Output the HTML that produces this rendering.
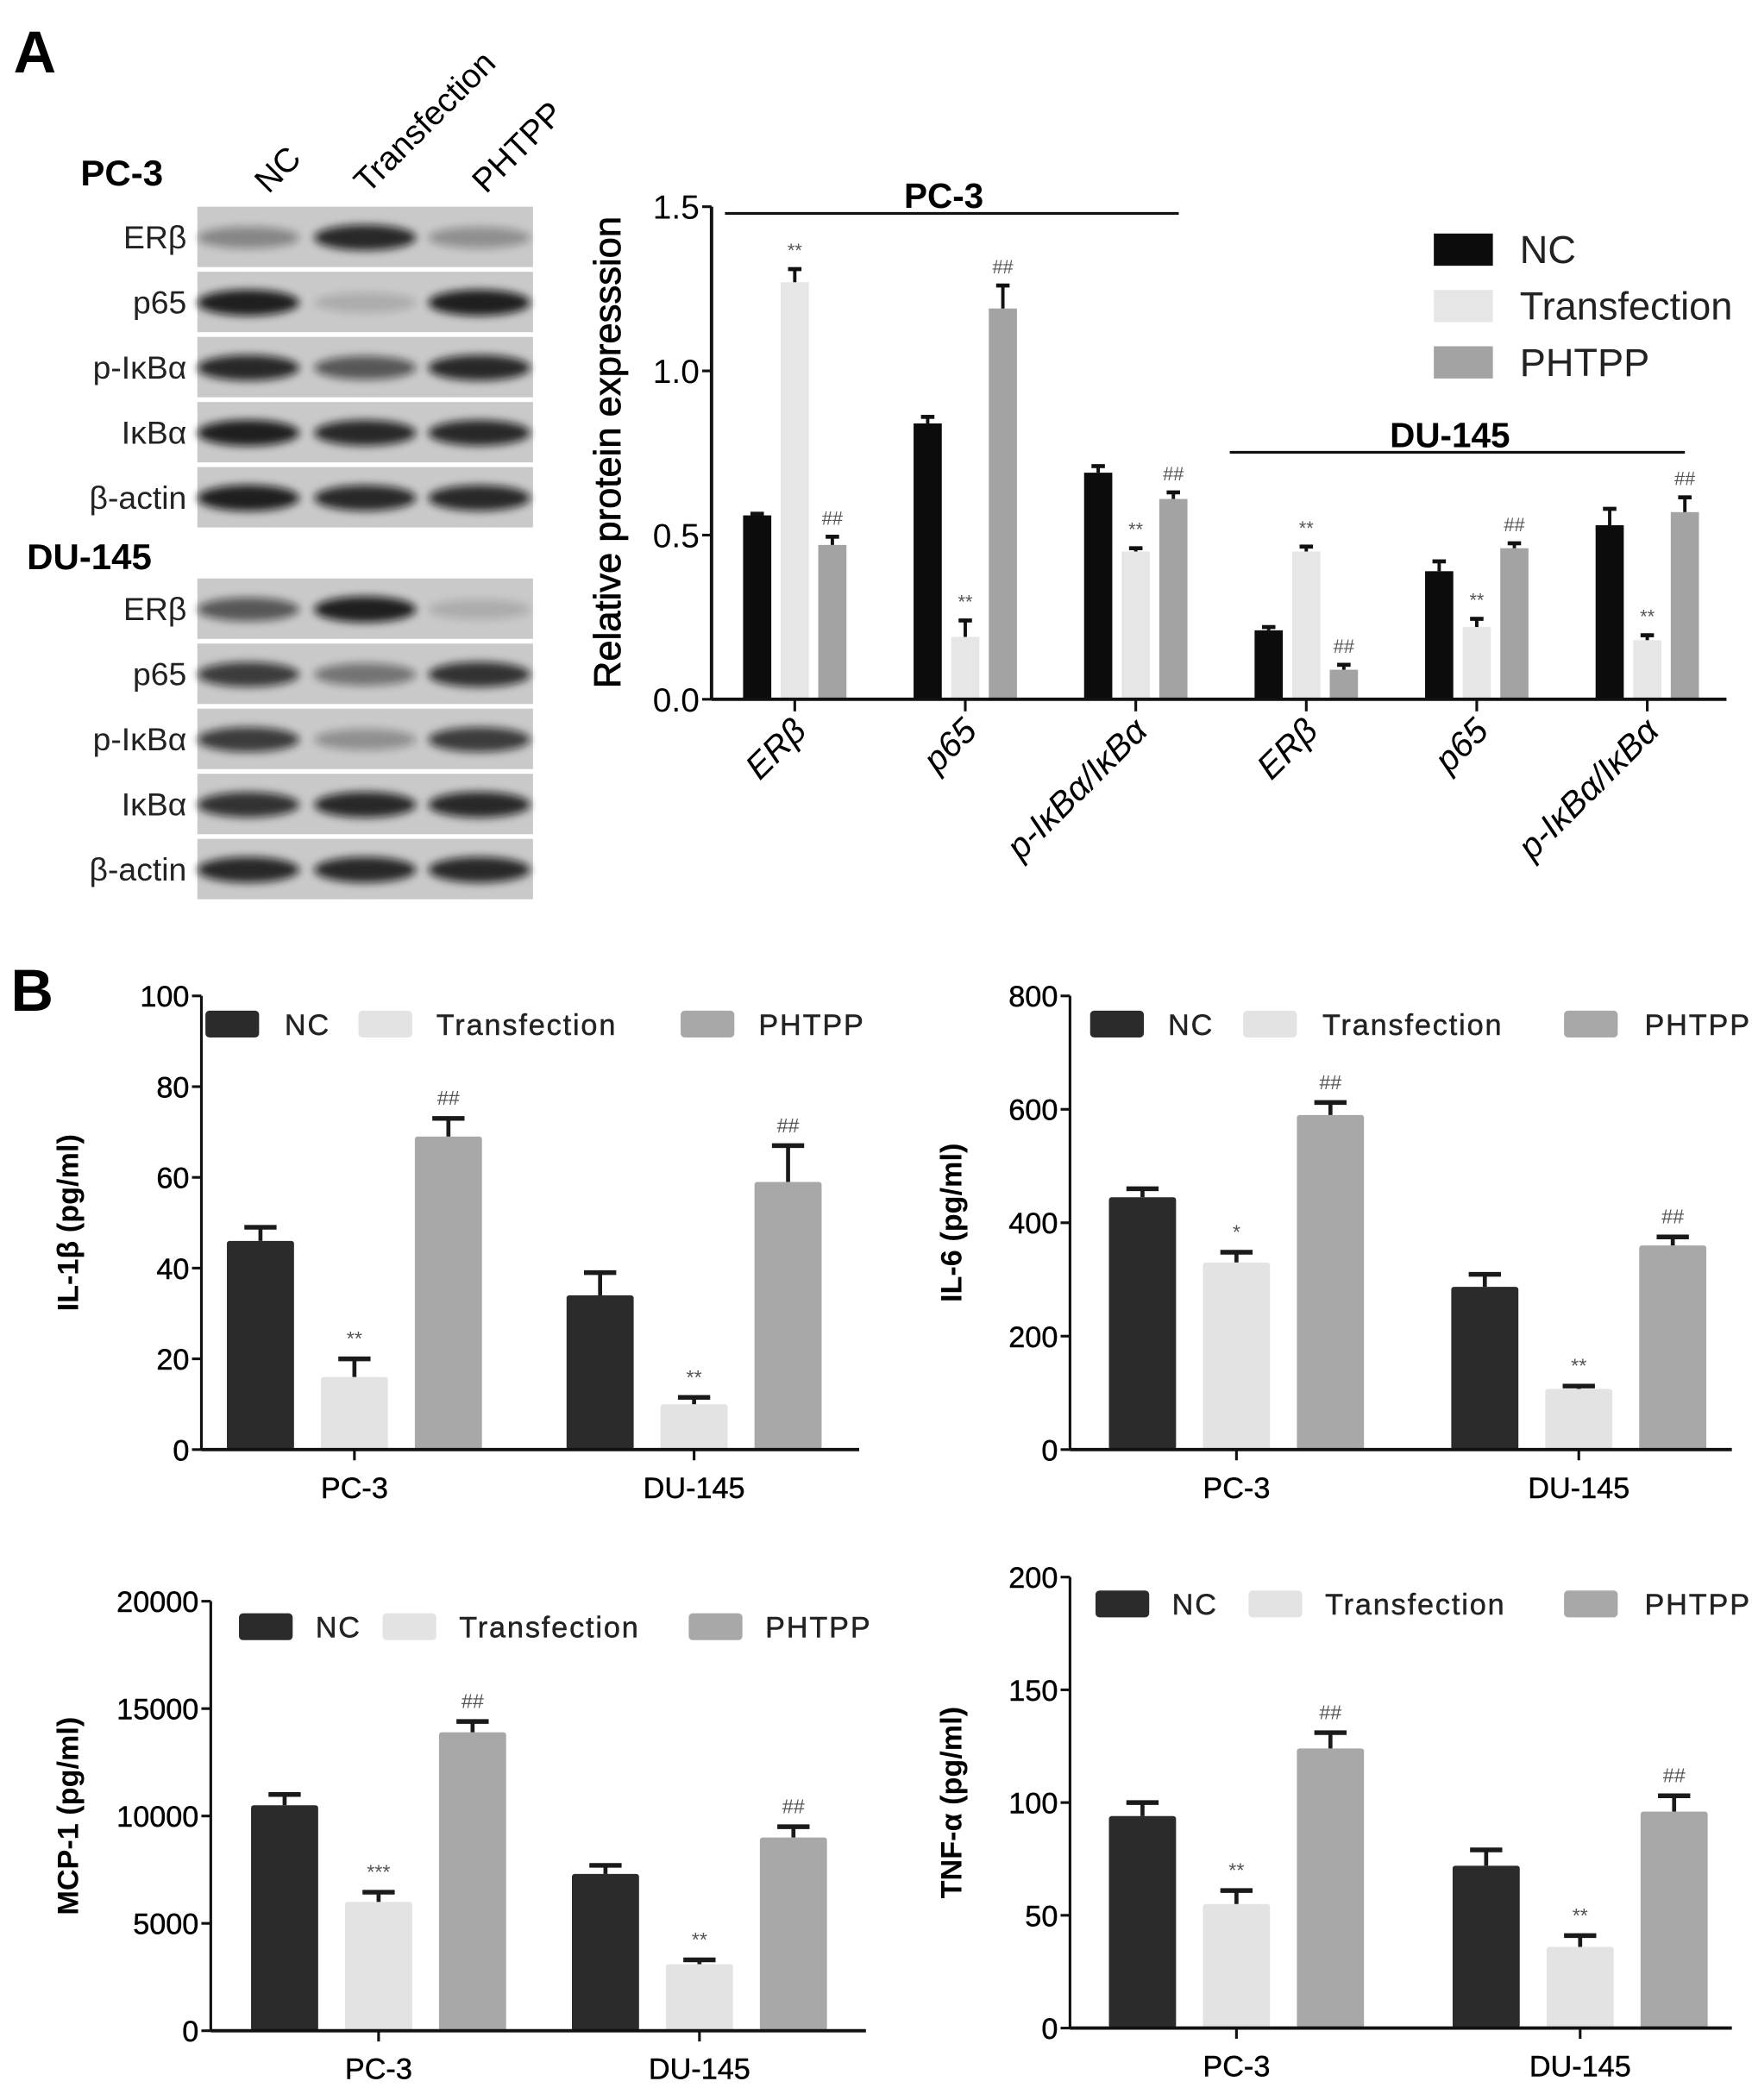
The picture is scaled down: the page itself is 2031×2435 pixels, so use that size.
<!DOCTYPE html>
<html><head><meta charset="utf-8"><style>
html,body{margin:0;padding:0;background:#fff}
svg{display:block}
text{font-family:"Liberation Sans",sans-serif}
</style></head><body>
<svg id="fig" width="2031" height="2435" viewBox="0 0 1305 1564.6" xmlns="http://www.w3.org/2000/svg">
<defs><filter id="blur" x="-20%" y="-50%" width="140%" height="200%"><feGaussianBlur stdDeviation="3"/></filter></defs>
<text x="10" y="54" font-size="44" font-weight="bold">A</text>
<text x="8" y="753" font-size="44" font-weight="bold">B</text>
<g id="blots"></g>
<g id="chartA"></g>
<g id="chartB"></g>
</svg>
<script>
const NS='http://www.w3.org/2000/svg';
function mk(parent,tag,attrs,txt){const e=document.createElementNS(NS,tag);for(const k in attrs)e.setAttribute(k,attrs[k]);if(txt!==undefined)e.textContent=txt;parent.appendChild(e);return e;}

// ---------- Blots ----------
const blotRows=['ERβ','p65','p-IκBα','IκBα','β-actin'];
const pcBandIntensity=[[0.35,0.85,0.3],[0.9,0.15,0.9],[0.85,0.6,0.85],[0.9,0.85,0.85],[0.9,0.85,0.85]];
const duBandIntensity=[[0.6,0.9,0.15],[0.75,0.45,0.8],[0.75,0.3,0.75],[0.8,0.85,0.85],[0.85,0.85,0.85]];
const laneNames=['NC','Transfection','PHTPP'];
const bl=document.getElementById('blots');
const laneX=[185,272,357];
[[154,pcBandIntensity,'pc3'],[431,duBandIntensity,'du145']].forEach(([top,ints,cell])=>{
  blotRows.forEach((r,i)=>{
    const y=top+i*48.5;
    const box=mk(bl,'rect',{x:147,y:y,width:250,height:45,fill:'#c9c9c9'});
    
    
    ints[i].forEach((v,j)=>{
      const b=mk(bl,'ellipse',{cx:laneX[j],cy:y+23,rx:38,ry:7+v*3,fill:'#111',opacity:v,filter:'url(#blur)'});
      
      
    });
    const t=mk(bl,'text',{x:139,y:y+31,'font-size':24,'text-anchor':'end',fill:'#222'},r);
    
    
  });
});
mk(bl,'text',{x:60,y:138,'font-size':27,'font-weight':'bold',},'PC-3');
mk(bl,'text',{x:20,y:424,'font-size':27,'font-weight':'bold',},'DU-145');
[[200,145],[274,145],[362,145]].forEach(([x,y],j)=>{
  const t=mk(bl,'text',{x:x,y:y,'font-size':25,transform:`rotate(-45 ${x} ${y})`},laneNames[j]);
  
  
});

// ---------- Chart A ----------
const aCats=['ERβ','p65','p-IκBα/IκBα','ERβ','p65','p-IκBα/IκBα'];
const aNC=[0.56,0.84,0.69,0.21,0.39,0.53];
const aNCerr=[0.005,0.02,0.02,0.01,0.03,0.05];
const aTr=[1.27,0.19,0.45,0.45,0.22,0.18];
const aTrErr=[0.04,0.05,0.01,0.015,0.025,0.015];
const aPH=[0.47,1.19,0.61,0.09,0.46,0.57];
const aPHerr=[0.025,0.07,0.02,0.015,0.015,0.045];
const aTrMark=['**','**','**','**','**','**'];
const aPHMark=['##','##','##','##','##','##'];
const aTicks=[0,0.5,1.0,1.5];
(function(){
  const g=document.getElementById('chartA');
  const X0=530,Y0=521,YT=154,max=1.5,c0=592,step=127;
  const y=v=>Y0-(v/max)*(Y0-YT);
  const cx=i=>c0+i*step;
  const cols=['#0c0c0c','#e6e6e6','#a3a3a3'];
  const series=[[aNC,aNCerr,null],[aTr,aTrErr,aTrMark],[aPH,aPHerr,aPHMark]];
  aCats.forEach((c,i)=>{
    series.forEach(([vals,errs,marks],s)=>{
      const x=cx(i)+(s-1)*28, w=21;
      const r=mk(g,'rect',{x:x-w/2,y:y(vals[i]),width:w,height:Y0-y(vals[i]),fill:cols[s]});
      
      
      const ye=y(vals[i]+errs[i]);
      mk(g,'line',{x1:x,x2:x,y1:y(vals[i]),y2:ye,stroke:'#111','stroke-width':2.5});
      mk(g,'line',{x1:x-5,x2:x+5,y1:ye,y2:ye,stroke:'#111','stroke-width':3});
      if(marks){const m=mk(g,'text',{x:x,y:ye-9,'font-size':14,'text-anchor':'middle',fill:'#555'},marks[i]);
        
        }
    });
    mk(g,'line',{x1:cx(i),x2:cx(i),y1:Y0,y2:Y0+9,stroke:'#111','stroke-width':2});
    const tx=cx(i)+10,ty=546;
    const t=mk(g,'text',{x:tx,y:ty,'font-size':26,'font-style':'italic','text-anchor':'end',transform:`rotate(-45 ${tx} ${ty})`},c);
    
    
  });
  mk(g,'line',{x1:X0,x2:X0,y1:YT,y2:Y0,stroke:'#111','stroke-width':2.5});
  mk(g,'line',{x1:X0,x2:1286,y1:Y0,y2:Y0,stroke:'#111','stroke-width':2.5});
  aTicks.forEach(v=>{
    mk(g,'line',{x1:X0-7,x2:X0,y1:y(v),y2:y(v),stroke:'#111','stroke-width':2});
    const t=mk(g,'text',{x:X0-9,y:y(v)+9,'font-size':25,'text-anchor':'end'},v.toFixed(1));
    
    
  });
  mk(g,'text',{x:462,y:337,'font-size':28,'text-anchor':'middle',stroke:'#000','stroke-width':0.5,transform:'rotate(-90 462 337)',},'Relative protein expresssion');
  mk(g,'line',{x1:540,x2:878,y1:159,y2:159,stroke:'#111','stroke-width':2});
  mk(g,'text',{x:703,y:155,'font-size':26,'font-weight':'bold','text-anchor':'middle',},'PC-3');
  mk(g,'line',{x1:916,x2:1255,y1:337,y2:337,stroke:'#111','stroke-width':2});
  mk(g,'text',{x:1080,y:333,'font-size':26,'font-weight':'bold','text-anchor':'middle',},'DU-145');
  ['NC','Transfection','PHTPP'].forEach((n,s)=>{
    const r=mk(g,'rect',{x:1068,y:174+s*42,width:44,height:24,fill:cols[s]});
    
    
    const t=mk(g,'text',{x:1132,y:196+s*42,'font-size':29,fill:'#222'},n);
    
    
  });
})();

// ---------- Chart B ----------
const bGroups=['PC-3','DU-145'];
const il1bNC=[46,34], il1bNCerr=[3,5], il1bTr=[16,10], il1bTrErr=[4,1.5], il1bPH=[69,59], il1bPHerr=[4,8];
const il6NC=[445,287], il6NCerr=[15,22], il6Tr=[330,107], il6TrErr=[18,5], il6PH=[590,360], il6PHerr=[22,15];
const mcpNC=[10500,7300], mcpNCerr=[500,400], mcpTr=[6000,3100], mcpTrErr=[450,200], mcpPH=[13900,9000], mcpPHerr=[500,500];
const tnfNC=[94,72], tnfNCerr=[6,7], tnfTr=[55,36], tnfTrErr=[6,5], tnfPH=[124,96], tnfPHerr=[7,7];
const il6TrMark=['*','**'], mcpTrMark=['***','**'];
const il1bTicks=[0,20,40,60,80,100], il6Ticks=[0,200,400,600,800], mcpTicks=[0,5000,10000,15000,20000], tnfTicks=[0,50,100,150,200];
const bCharts=[
 {name:'il1b',title:'IL-1β (pg/ml)',X0:150,Y0:1080,YT:742,XE:640,ticks:il1bTicks,c:[264,517],d:[[il1bNC,il1bNCerr],[il1bTr,il1bTrErr],[il1bPH,il1bPHerr]],tm:['**','**'],tx:50,leg:[[153,212],[267,325],[507,565]],ly:763},
 {name:'il6',title:'IL-6 (pg/ml)',X0:797,Y0:1080,YT:742,XE:1290,ticks:il6Ticks,c:[921,1176],d:[[il6NC,il6NCerr],[il6Tr,il6TrErr],[il6PH,il6PHerr]],tm:il6TrMark,tx:708,leg:[[812,870],[926,985],[1165,1225]],ly:763},
 {name:'mcp1',title:'MCP-1 (pg/ml)',X0:157,Y0:1513,YT:1193,XE:645,ticks:mcpTicks,c:[282,521],d:[[mcpNC,mcpNCerr],[mcpTr,mcpTrErr],[mcpPH,mcpPHerr]],tm:mcpTrMark,tx:50,leg:[[178,235],[285,342],[513,570]],ly:1212},
 {name:'tnfa',title:'TNF-α (pg/ml)',X0:797,Y0:1511,YT:1175,XE:1290,ticks:tnfTicks,c:[921,1177],d:[[tnfNC,tnfNCerr],[tnfTr,tnfTrErr],[tnfPH,tnfPHerr]],tm:['**','**'],tx:708,leg:[[816,873],[930,987],[1165,1225]],ly:1195}
];
(function(){
  const root=document.getElementById('chartB');
  const cols=['#2b2b2b','#e3e3e3','#a8a8a8'];
  bCharts.forEach(ch=>{
    const g=mk(root,'g',{});
    
    
    const max=ch.ticks[ch.ticks.length-1];
    const y=v=>ch.Y0-(v/max)*(ch.Y0-ch.YT);
    bGroups.forEach((gname,i)=>{
      ch.d.forEach(([vals,errs],s)=>{
        const x=ch.c[i]+(s-1)*70,w=50;
        const r=mk(g,'rect',{x:x-w/2,y:y(vals[i]),width:w,height:ch.Y0-y(vals[i]),fill:cols[s],rx:2});
        
        
        const ye=y(vals[i]+errs[i]);
        mk(g,'line',{x1:x,x2:x,y1:y(vals[i]),y2:ye,stroke:'#1a1a1a','stroke-width':3});
        mk(g,'line',{x1:x-12,x2:x+12,y1:ye,y2:ye,stroke:'#1a1a1a','stroke-width':3.5});
        let mark=null; if(s===1)mark=ch.tm[i]; if(s===2)mark='##';
        if(mark){const m=mk(g,'text',{x:x,y:ye-10,'font-size':15,'text-anchor':'middle',fill:'#555'},mark);
          
          }
      });
      mk(g,'line',{x1:ch.c[i],x2:ch.c[i],y1:ch.Y0,y2:ch.Y0+8,stroke:'#111','stroke-width':2});
      const t=mk(g,'text',{x:ch.c[i],y:ch.Y0+36,'font-size':22,'text-anchor':'middle',stroke:'#000','stroke-width':0.3},gname);
      
      
    });
    mk(g,'line',{x1:ch.X0,x2:ch.X0,y1:ch.YT,y2:ch.Y0,stroke:'#111','stroke-width':2});
    mk(g,'line',{x1:ch.X0,x2:ch.XE,y1:ch.Y0,y2:ch.Y0,stroke:'#111','stroke-width':2.5});
    ch.ticks.forEach(v=>{
      mk(g,'line',{x1:ch.X0-7,x2:ch.X0,y1:y(v),y2:y(v),stroke:'#111','stroke-width':2});
      const t=mk(g,'text',{x:ch.X0-9,y:y(v)+8,'font-size':22,'text-anchor':'end',stroke:'#000','stroke-width':0.3},String(v));
      
      
    });
    const cy=(ch.Y0+ch.YT)/2;
    const tt=mk(g,'text',{x:ch.tx+8,y:cy,'font-size':22,'font-weight':'bold','text-anchor':'middle',transform:`rotate(-90 ${ch.tx+8} ${cy})`},ch.title);
    
    
    ['NC','Transfection','PHTPP'].forEach((n,s)=>{
      const [bx,tx]=ch.leg[s];
      const r=mk(g,'rect',{x:bx,y:ch.ly-10,width:40,height:20,rx:3,fill:cols[s]});
      
      
      const t=mk(g,'text',{x:tx,y:ch.ly+8,'font-size':22,'letter-spacing':1.2,fill:'#222',stroke:'#222','stroke-width':0.3},n);
      
      
    });
  });
})();
</script>
</body></html>
